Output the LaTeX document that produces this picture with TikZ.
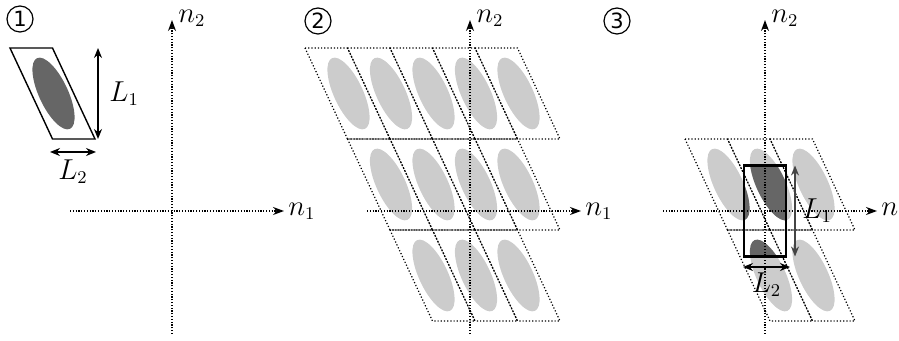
\documentclass[tikz,border=0pt]{standalone}
\usepackage{fontspec}
\newfontfamily\circfont{DejaVu Sans}
\usepackage{xcolor}
\usepackage{tikz}
\usetikzlibrary{arrows.meta}
\definecolor{BlobLight}{HTML}{cccccc}
\definecolor{BlobDark}{HTML}{666666}
\definecolor{ArrowGray}{HTML}{444444}

% one sheared cell with its top-left corner at (#1,#2)
\newcommand{\latcell}[2]{%
  \draw[cellbox] (#1,#2) -- ++(42.5,0) -- ++(42.5,91) -- ++(-42.5,0) -- cycle;}
% the blob of that cell, in colour #3
\newcommand{\latblob}[3]{%
  \fill[#3, rotate around={25:(#1+43.5,#2+45.5)}] (#1+43.5,#2+45.5) ellipse [x radius=14.5, y radius=39];}

\begin{document}
\begin{tikzpicture}[
    x=0.5pt, y=-0.5pt,
    cellbox/.style={line width=0.6pt, dash pattern=on 0.6pt off 1pt},
    axis/.style={line width=0.6pt, dash pattern=on 0.6pt off 0.8pt,
                 -{Stealth[length=5.5pt, width=4pt]}},
    dimarrow/.style={{Stealth[length=5pt, width=4pt]}-{Stealth[length=5pt, width=4pt]}, line width=0.75pt},
    numlabel/.style={circle, draw, line width=0.6pt, minimum size=13pt, inner sep=0pt,
                     font=\circfont\fontsize{10.5}{10.5}\selectfont},
    axlabel/.style={anchor=west, inner sep=1pt, font=\fontsize{13.5}{13.5}\selectfont},
    dimlabel/.style={font=\fontsize{13.5}{13.5}\selectfont}
]
\useasboundingbox (0,0) rectangle (899,341);

% --- panel 1: one cell
\node[numlabel] (num1) at (20,19) {1};
\latblob{10}{48}{BlobDark}
\draw[line width=0.7pt] (10,48) -- (52.5,48) -- (95,139) -- (52.5,139) -- cycle;
\coordinate (l1top) at (98,48);
\coordinate (l1bot) at (98,139);
\coordinate (l2left) at (50,152);
\coordinate (l2right) at (96,152);
\draw[dimarrow] (l1top) -- (l1bot) node[midway, right=2pt, dimlabel] (len1) {$L_1$};
\draw[dimarrow] (l2left) -- (l2right) node[midway, below=0pt, dimlabel] (len2) {$L_2$};

\coordinate (o1s) at (172,334);
\coordinate (o1n) at (172,20);
\coordinate (o1w) at (70,211);
\coordinate (o1e) at (284,211);
\draw[axis] (o1s) -- (o1n);
\draw[axis] (o1w) -- (o1e);
\node[axlabel] (n2a) at ([xshift=2pt, yshift=1pt]o1n) {$n_2$};
\node[axlabel] (n1a) at ([xshift=1pt]o1e) {$n_1$};

% --- panel 2: the periodic tiling
\node[numlabel] (num2) at (318,21) {2};
\foreach \r/\first in {0/0, 1/1, 2/2}
  \foreach \i in {\first,...,4} {
    \pgfmathsetmacro{\cx}{305+42.5*\i}
    \pgfmathsetmacro{\cy}{48+91*\r}
    \latblob{\cx}{\cy}{BlobLight}
  }
\foreach \r/\first in {0/0, 1/1, 2/2}
  \foreach \i in {\first,...,4} {
    \pgfmathsetmacro{\cx}{305+42.5*\i}
    \pgfmathsetmacro{\cy}{48+91*\r}
    \latcell{\cx}{\cy}
  }

\coordinate (o2s) at (470,334);
\coordinate (o2n) at (470,20);
\coordinate (o2w) at (367,211);
\coordinate (o2e) at (581,211);
\draw[axis] (o2s) -- (o2n);
\draw[axis] (o2w) -- (o2e);
\node[axlabel] (n2b) at ([xshift=2pt, yshift=1pt]o2n) {$n_2$};
\node[axlabel] (n1b) at ([xshift=1pt]o2e) {$n_1$};

% --- panel 3: rectangular cell
\node[numlabel] (num3) at (617,21) {3};
\foreach \r/\first in {1/2, 2/3}
  \foreach \i in {\first,...,4} {
    \pgfmathsetmacro{\cx}{600+42.5*\i}
    \pgfmathsetmacro{\cy}{48+91*\r}
    \latblob{\cx}{\cy}{BlobLight}
  }
\begin{scope}
  \clip (743.75,165.5) rectangle (786.25,256.5);
  \foreach \r/\first in {1/2, 2/3}
    \foreach \i in {\first,...,4} {
      \pgfmathsetmacro{\cx}{600+42.5*\i}
      \pgfmathsetmacro{\cy}{48+91*\r}
      \latblob{\cx}{\cy}{BlobDark}
    }
\end{scope}
\foreach \r/\first in {1/2, 2/3}
  \foreach \i in {\first,...,4} {
    \pgfmathsetmacro{\cx}{600+42.5*\i}
    \pgfmathsetmacro{\cy}{48+91*\r}
    \latcell{\cx}{\cy}
  }

\coordinate (o3s) at (765,334);
\coordinate (o3n) at (765,20);
\coordinate (o3w) at (663,211);
\coordinate (o3e) at (877,211);
\draw[axis] (o3s) -- (o3n);
\draw[axis] (o3w) -- (o3e);
\node[axlabel] (n2c) at ([xshift=2pt, yshift=1pt]o3n) {$n_2$};
\node[axlabel] (n1c) at ([xshift=1pt]o3e) {$n_1$};

\draw[line width=1.2pt] (743.75,165.5) rectangle (786.25,256.5);
\coordinate (l1top3) at (795,165.5);
\coordinate (l1bot3) at (795,256.5);
\coordinate (l2left3) at (743,267);
\coordinate (l2right3) at (790,267);
\draw[dimarrow, ArrowGray] (l1top3) -- (l1bot3) node[midway, right=0pt, black, dimlabel] (len13) {$L_1$};
\draw[dimarrow] (l2left3) -- (l2right3) node[midway, below=-1pt, dimlabel] (len23) {$L_2$};

\end{tikzpicture}
\end{document}
